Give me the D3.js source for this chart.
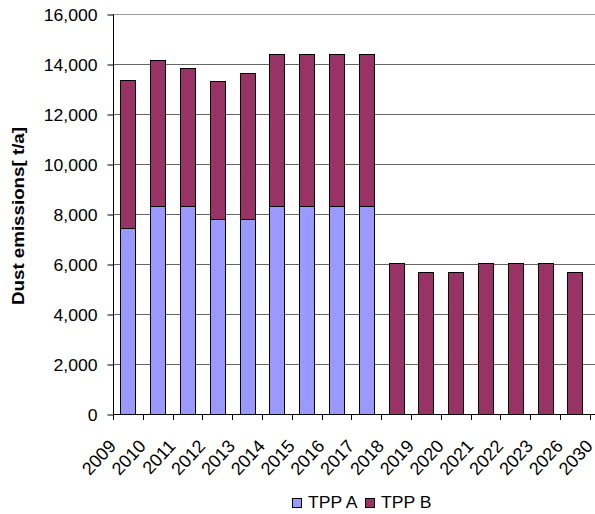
<!DOCTYPE html>
<html>
<head>
<meta charset="utf-8">
<script src="https://cdn.jsdelivr.net/npm/d3@7"></script>
<style>
body { margin: 0; background: #fff; }
text { font-family: "Liberation Sans", Arial, sans-serif; fill: #000; }
</style>
</head>
<body>
<div id="chart"></div>
<script>
// values (t/a)
var tppA = [7430, 8300, 8300, 7800, 7800, 8300, 8300, 8300, 8300, 0, 0, 0, 0, 0, 0, 0];
var tppB = [5920, 5850, 5530, 5520, 5840, 6090, 6090, 6090, 6090, 6050, 5670, 5670, 6050, 6050, 6050, 5670];
var yearLabels = ["2009","2010","2011","2012","2013","2014","2015","2016","2017","2018",
	"2019","2020","2021","2022","2023","2026","2030"];
var yTicks = [0, 2000, 4000, 6000, 8000, 10000, 12000, 14000, 16000];
var seriesNames = ["TPP A", "TPP B"];
var colors = ["#9999ff", "#993366"];

var W = 595, H = 514;
var plot = {left: 113, top: 14, bottom: 414, right: 595};
var barsRight = 589.8;
var fs = 16, stretch = 1.1; // the source text is drawn a little wide

var svg = d3.select("#chart").append("svg")
	.attr("width", W)
	.attr("height", H);

var idx = d3.range(tppB.length);
var x = d3.scaleBand()
	.domain(idx)
	.range([plot.left, barsRight])
	.paddingInner(0.5)
	.paddingOuter(0.25);

var y = d3.scaleLinear()
	.domain([0, 16000])
	.range([plot.bottom, plot.top]);

// gridlines
svg.append("g")
	.selectAll("line")
	.data(yTicks.slice(1))
	.enter()
	.append("line")
	.attr("x1", plot.left)
	.attr("x2", plot.right)
	.attr("y1", function(d){ return Math.round(y(d)) + 0.5 })
	.attr("y2", function(d){ return Math.round(y(d)) + 0.5 })
	.attr("stroke", function(d){ return d == 16000 ? "#999" : "#666" })
	.attr("stroke-width", 1);

// stacked bars
var stackData = idx.map(function(i){ return {i: i, "TPP A": tppA[i], "TPP B": tppB[i]} });
var stacked = d3.stack().keys(seriesNames)(stackData);

svg.append("g")
	.selectAll("g")
	.data(stacked)
	.enter()
	.append("g")
	.attr("fill", function(d,i){ return colors[i] })
	.selectAll("rect")
	.data(function(d){ return d.filter(function(p){ return p[1] - p[0] > 0 }) })
	.enter()
	.append("rect")
	.attr("x", function(d){ return Math.round(x(d.data.i)) + 0.5 })
	.attr("width", function(){ return Math.round(x.bandwidth()) })
	.attr("y", function(d){ return Math.round(y(d[1])) + 0.5 })
	.attr("height", function(d){ return Math.round(y(d[0])) - Math.round(y(d[1])) })
	.attr("stroke", "#000")
	.attr("stroke-width", 1);

// y axis
var yAxis = svg.append("g")
	.attr("transform", "translate(" + (plot.left + 0.5) + ",0.5)")
	.call(d3.axisLeft(y).tickValues(yTicks).tickSize(6)
		.tickFormat(d3.format(",")));
yAxis.select(".domain").attr("stroke", "#000").attr("d", "M0," + Math.round(plot.top) + "V" + plot.bottom);
yAxis.selectAll(".tick line").attr("stroke", "#000");
yAxis.selectAll(".tick text")
	.attr("x", 0)
	.attr("dy", "0.36em")
	.attr("font-size", fs)
	.attr("font-family", "Liberation Sans, Arial, sans-serif")
	.attr("fill", "#000")
	.attr("transform", "translate(-16,0) scale(" + stretch + ",1)");

// x axis line and ticks at category boundaries
var bounds = d3.range(yearLabels.length).map(function(i){
	return plot.left + i * (barsRight - plot.left) / tppB.length;
});
svg.append("line")
	.attr("x1", plot.left)
	.attr("x2", plot.right)
	.attr("y1", plot.bottom + 0.5)
	.attr("y2", plot.bottom + 0.5)
	.attr("stroke", "#000");
svg.append("g")
	.selectAll("line")
	.data(bounds)
	.enter()
	.append("line")
	.attr("x1", function(d){ return Math.round(d) + 0.5 })
	.attr("x2", function(d){ return Math.round(d) + 0.5 })
	.attr("y1", plot.bottom)
	.attr("y2", plot.bottom + 6)
	.attr("stroke", "#000");

// year labels, rotated
svg.append("g")
	.selectAll("text")
	.data(yearLabels)
	.enter()
	.append("text")
	.attr("transform", function(d,i){
		return "translate(" + (bounds[i] + 4) + ",447) rotate(-47)"
	})
	.attr("text-anchor", "end")
	.attr("font-size", 18)
	.text(function(d){ return d });

// y title
svg.append("text")
	.attr("transform", "translate(24,216) rotate(-90)")
	.attr("text-anchor", "middle")
	.attr("font-size", fs)
	.attr("font-weight", "bold")
	.attr("textLength", 178)
	.attr("lengthAdjust", "spacingAndGlyphs")
	.text("Dust emissions[ t/a]");

// legend
var legendX = [292, 365];
var leg = svg.append("g")
	.selectAll("g")
	.data(seriesNames)
	.enter()
	.append("g")
	.attr("transform", function(d,i){ return "translate(" + legendX[i] + ",498)" });
leg.append("rect")
	.attr("x", 0.5)
	.attr("y", 0.5)
	.attr("width", 9)
	.attr("height", 9)
	.attr("fill", function(d,i){ return colors[i] })
	.attr("stroke", "#000");
leg.append("text")
	.attr("transform", "translate(16,10) scale(" + stretch + ",1)")
	.attr("font-size", fs)
	.text(function(d){ return d });
</script>
</body>
</html>
